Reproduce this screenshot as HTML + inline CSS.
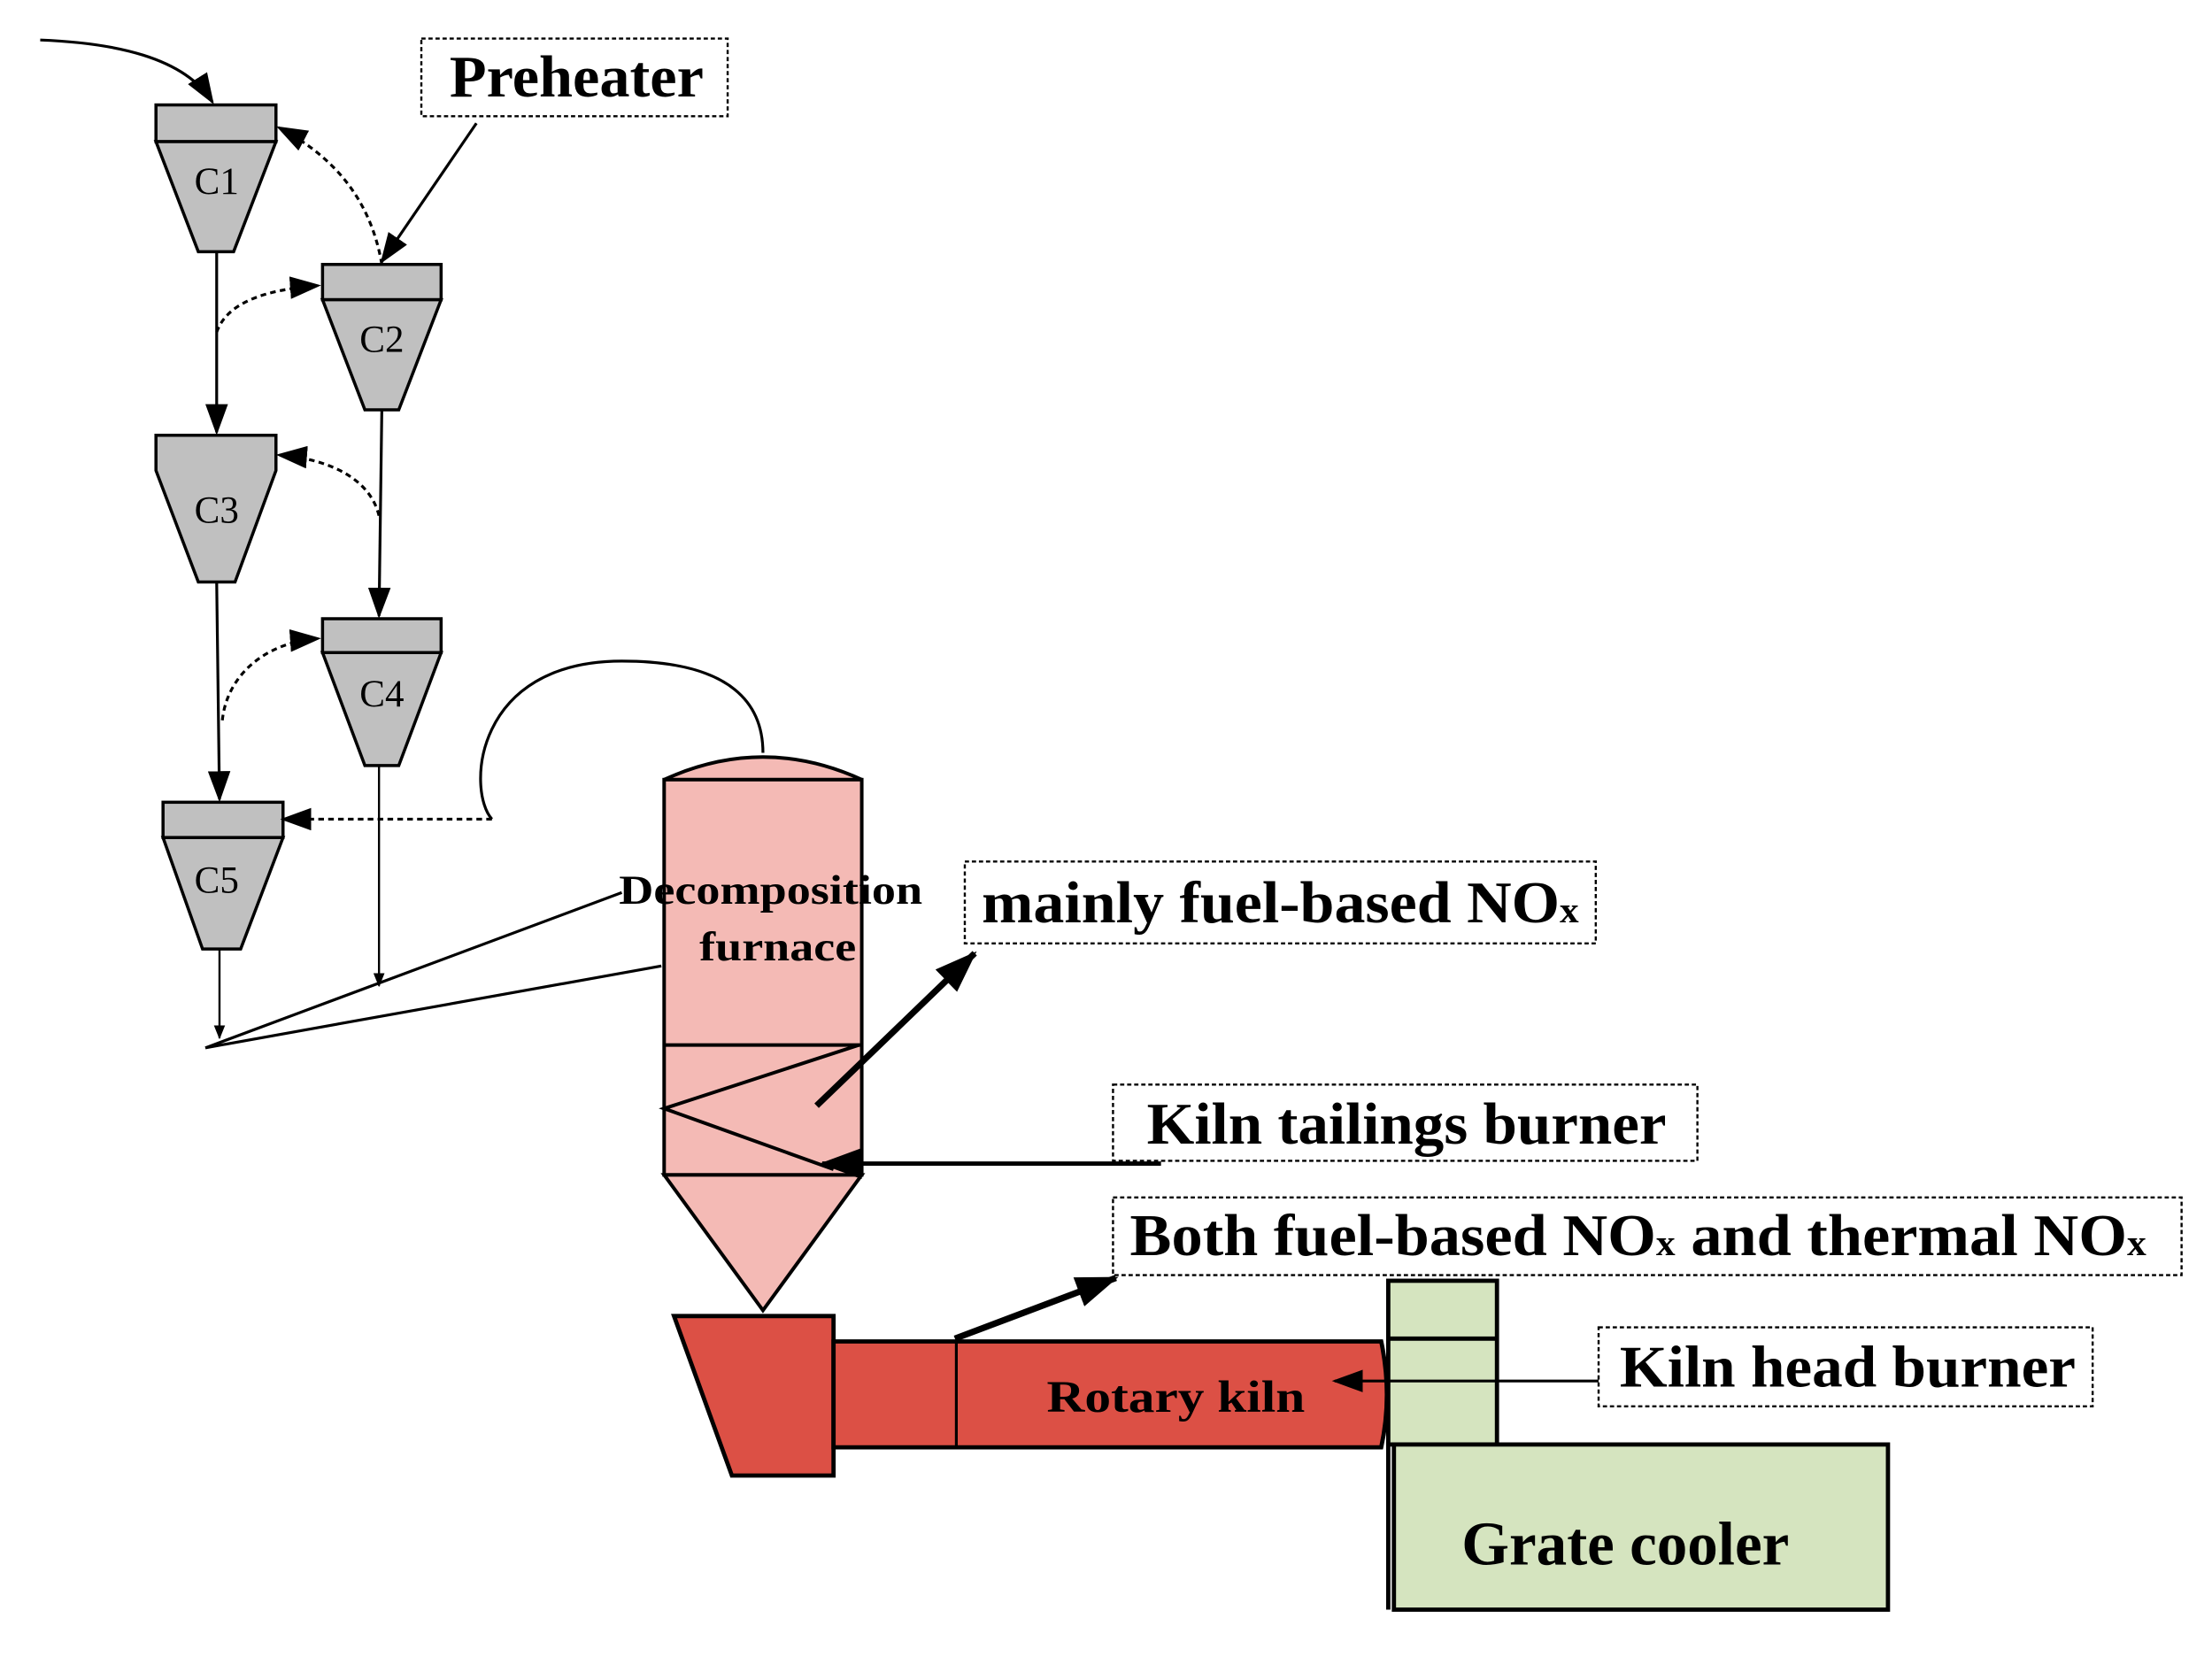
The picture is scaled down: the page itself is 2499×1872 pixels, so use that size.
<!DOCTYPE html>
<html><head><meta charset="utf-8"><style>
html,body{margin:0;padding:0;background:#fff}
svg{display:block}
text{font-family:"Liberation Serif",serif}
.b{font-weight:bold;fill:#000}
</style></head><body>
<svg width="2499" height="1872" viewBox="0 0 1560 1168.6" preserveAspectRatio="none" xmlns="http://www.w3.org/2000/svg">
<defs>
<marker id="a" markerWidth="10" markerHeight="8" refX="9" refY="4" orient="auto" markerUnits="userSpaceOnUse"><path d="M0,0 L10,4 L0,8 z" fill="#000"/></marker>
<marker id="a2" markerWidth="22" markerHeight="16" refX="20" refY="8" orient="auto" markerUnits="userSpaceOnUse"><path d="M0,0 L22,8 L0,16 z" fill="#000"/></marker>
<marker id="a3" markerWidth="30" markerHeight="22" refX="28" refY="11" orient="auto" markerUnits="userSpaceOnUse"><path d="M0,0 L30,11 L0,22 z" fill="#000"/></marker>
</defs>
<g transform="translate(110,74) scale(0.9955) translate(-110,-74)">
<g stroke="#000" stroke-width="2.2" fill="#c0c0c0">
<rect x="110" y="74" width="85" height="26"/>
<path d="M110,100 L195,100 L165,178 L140,178 z"/>
<rect x="228" y="187" width="84" height="25"/>
<path d="M228,212 L312,212 L282,290 L258,290 z"/>
<path d="M110,308 L195,308 L195,333 L166,412 L140,412 L110,333 z"/>
<rect x="228" y="438" width="84" height="24"/>
<path d="M228,462 L312,462 L282,542 L258,542 z"/>
<rect x="115" y="568" width="85" height="25"/>
<path d="M115,593 L200,593 L170,672 L143,672 z"/>
</g>
<g font-size="27" text-anchor="middle" fill="#000">
<text x="153" y="137">C1</text>
<text x="270" y="249">C2</text>
<text x="153" y="370">C3</text>
<text x="270" y="500">C4</text>
<text x="153" y="632">C5</text>
</g>
<g stroke="#000" stroke-width="2" fill="none">
<path d="M28,28 C80,30 130,40 150,72" marker-end="url(#a2)"/>
<line x1="153" y1="178" x2="153" y2="306" marker-end="url(#a2)"/>
<line x1="270" y1="290" x2="268" y2="436" marker-end="url(#a2)"/>
<line x1="153" y1="412" x2="155" y2="566" marker-end="url(#a2)"/>
<line x1="268" y1="542" x2="268" y2="698" stroke-width="1.5" marker-end="url(#a)"/>
<line x1="155" y1="672" x2="155" y2="735" stroke-width="1.5" marker-end="url(#a)"/>
<line x1="337" y1="87" x2="270" y2="185" marker-end="url(#a2)"/>
<g stroke-dasharray="4,3">
<path d="M270,187 C262,140 235,110 197,90" marker-end="url(#a2)"/>
<path d="M153,235 C160,215 185,205 225,202" marker-end="url(#a2)"/>
<path d="M268,365 C262,340 235,325 197,322" marker-end="url(#a2)"/>
<path d="M157,510 C160,480 185,455 225,452" marker-end="url(#a2)"/>
<path d="M348,580 L200,580" marker-end="url(#a2)"/>
</g>
<path d="M348,580 C330,560 335,468 440,468 C520,468 540,500 540,533"/>
<line x1="145" y1="742" x2="440" y2="632"/>
<line x1="145" y1="742" x2="468" y2="684"/>
</g>
<g stroke="#000" stroke-width="2.5" fill="#f4bab5">
<path d="M470,552 Q540,520 610,552 z"/>
<rect x="470" y="552" width="140" height="280"/>
<path d="M470,832 L540,928 L610,832 z"/>
<line x1="470" y1="740" x2="610" y2="740"/>
<polyline points="608,740 470,785 590,828" fill="none"/>
</g>
<text class="b" x="438" y="640" font-size="29" textLength="215" lengthAdjust="spacingAndGlyphs">Decomposition</text>
<text class="b" x="495" y="680" font-size="29" textLength="111" lengthAdjust="spacingAndGlyphs">furnace</text>
<g stroke="#000" stroke-width="3" fill="#dc5045">
<path d="M477,932 L590,932 L590,1045 L518,1045 z"/>
<path d="M590,950 L978,950 Q986,988 978,1025 L590,1025 z"/>
<line x1="677" y1="950" x2="677" y2="1025" stroke-width="2"/>
</g>
<text class="b" x="741" y="1000" font-size="32" textLength="183" lengthAdjust="spacingAndGlyphs">Rotary   kiln</text>
<g stroke="#000" stroke-width="3" fill="#d5e4bf">
<rect x="983" y="907" width="77" height="116"/>
<line x1="983" y1="948" x2="1060" y2="948"/>
<rect x="987" y="1023" width="350" height="117"/>
<line x1="983" y1="1023" x2="983" y2="1140"/>
</g>
<text class="b" x="1035" y="1108" font-size="44" textLength="232" lengthAdjust="spacingAndGlyphs">Grate cooler</text>
<g stroke="#000" stroke-width="1.5" fill="#fff" stroke-dasharray="3,2">
<rect x="298" y="27" width="217" height="55"/>
<rect x="683" y="610" width="447" height="58"/>
<rect x="788" y="768" width="414" height="54"/>
<rect x="788" y="848" width="757" height="55"/>
<rect x="1132" y="940" width="350" height="56"/>
</g>
<g class="b" font-size="42">
<text x="318" y="68" textLength="180" lengthAdjust="spacingAndGlyphs">Preheater</text>
<text x="695" y="653" textLength="423" lengthAdjust="spacingAndGlyphs">mainly fuel-based NO<tspan font-size="26">x</tspan></text>
<text x="812" y="810" textLength="368" lengthAdjust="spacingAndGlyphs">Kiln tailings burner</text>
<text x="800" y="889" textLength="720" lengthAdjust="spacingAndGlyphs">Both fuel-based NO<tspan font-size="26">x</tspan> and thermal NO<tspan font-size="26">x</tspan></text>
<text x="1147" y="982" textLength="323" lengthAdjust="spacingAndGlyphs">Kiln head burner</text>
</g>
<g stroke="#000" fill="none">
<line x1="578" y1="783" x2="690" y2="675" stroke-width="4.5" marker-end="url(#a3)"/>
<line x1="676" y1="948" x2="790" y2="905" stroke-width="4.5" marker-end="url(#a3)"/>
<line x1="822" y1="824" x2="582" y2="824" stroke-width="3" marker-end="url(#a3)"/>
<line x1="1132" y1="978" x2="945" y2="978" stroke-width="2" marker-end="url(#a2)"/>
</g>
</g>
</svg>
</body></html>
